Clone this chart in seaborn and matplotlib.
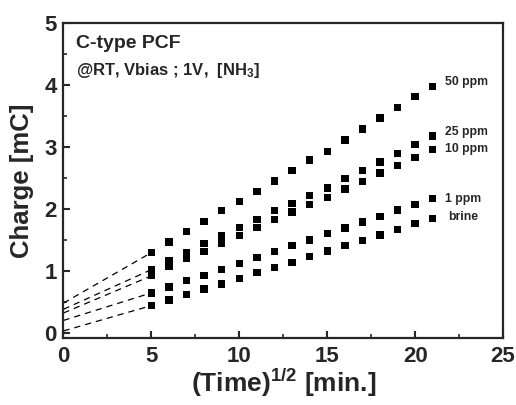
import numpy as np
import pandas as pd
import matplotlib
matplotlib.use("Agg")
import matplotlib.pyplot as plt
import seaborn as sns

# ---- data ----
sqrt_time = [5, 6, 7, 8, 9, 10, 11, 12, 13, 14, 15, 16, 17, 18, 19, 20, 21]
ppm50 = [1.295, 1.465, 1.635, 1.80, 1.97, 2.12, 2.285, 2.45, 2.62, 2.79, 2.93, 3.11, 3.29, 3.465, 3.64, 3.82, 3.98]
ppm25 = [1.02, 1.16, 1.295, 1.44, 1.565, 1.70, 1.83, 1.97, 2.09, 2.22, 2.34, 2.49, 2.62, 2.76, 2.89, 3.04, 3.18]
ppm10 = [0.92, 1.08, 1.20, 1.31, 1.44, 1.57, 1.70, 1.83, 1.95, 2.07, 2.18, 2.32, 2.44, 2.58, 2.70, 2.83, 2.96]
ppm1 = [0.645, 0.74, 0.84, 0.93, 1.025, 1.12, 1.22, 1.31, 1.41, 1.50, 1.60, 1.69, 1.79, 1.88, 1.98, 2.07, 2.17]
brine = [0.44, 0.53, 0.62, 0.71, 0.79, 0.88, 0.97, 1.05, 1.14, 1.23, 1.32, 1.41, 1.49, 1.58, 1.67, 1.76, 1.85]
series_names = ["50 ppm", "25 ppm", "10 ppm", "1 ppm", "brine"]
intercepts = [0.48, 0.38, 0.32, 0.20, 0.03]
label_y = [4.05, 3.24, 2.96, 2.16, 1.87]

series_vals = [ppm50, ppm25, ppm10, ppm1, brine]
df = pd.concat([pd.DataFrame({"x": sqrt_time, "y": v, "s": n}) for n, v in zip(series_names, series_vals)])

sns.set_style("ticks")
plt.rcParams["font.family"] = ["Liberation Sans", "DejaVu Sans"]
plt.rcParams["font.weight"] = "bold"
plt.rcParams["mathtext.fontset"] = "custom"
plt.rcParams["mathtext.rm"] = "Liberation Sans:bold"
plt.rcParams["mathtext.it"] = "Liberation Sans:bold"
plt.rcParams["mathtext.bf"] = "Liberation Sans:bold"
plt.rcParams["mathtext.default"] = "rm"

fig = plt.figure(figsize=(5.16, 4.05), dpi=100)
ax = fig.add_axes([0.123, 0.166, 0.852, 0.777])

sns.scatterplot(data=df, x="x", y="y", hue="s", palette=["black"] * 5, marker="s",
                s=28, edgecolor="none", legend=False, ax=ax, zorder=3)

# dashed extrapolation lines
for b, v in zip(intercepts, series_vals):
    ax.plot([0, sqrt_time[0]], [b, v[0]], color="black", lw=0.9, linestyle=(0, (5, 4)))

# series labels
for n, v, ly in zip(series_names, series_vals, label_y):
    xoff = 21.7 if n != "brine" else 21.9
    ax.text(xoff, ly, n, fontsize=8.8, fontweight="bold", va="center", ha="left")

ax.text(0.72, 4.67, "C-type PCF", fontsize=14, fontweight="bold", va="center")
ax.text(0.72, 4.24, "@RT, Vbias ; 1V,  [NH$_3$]", fontsize=12, fontweight="bold", va="center")

ax.set_xlim(0, 25)
ax.set_ylim(-0.08, 5)
ax.set_xticks([0, 5, 10, 15, 20, 25])
ax.set_xticks([2.5, 7.5, 12.5, 17.5, 22.5], minor=True)
ax.set_yticks([0, 1, 2, 3, 4, 5])
ax.set_yticks([0.5, 1.5, 2.5, 3.5, 4.5], minor=True)
ax.tick_params(which="major", direction="in", length=5, width=1.5, labelsize=16)
ax.tick_params(axis="x", which="major", pad=6)
ax.tick_params(axis="y", which="major", pad=5)
ax.tick_params(which="minor", direction="in", length=3, width=1.2)
for lab in ax.get_xticklabels() + ax.get_yticklabels():
    lab.set_fontweight("bold")
for sp in ax.spines.values():
    sp.set_linewidth(1.6)
    sp.set_visible(True)

ax.set_xlabel("(Time)$^{1/2}$ [min.]", fontsize=19, fontweight="bold", labelpad=0)
ax.set_ylabel("Charge [mC]", fontsize=18.5, fontweight="bold", labelpad=7)

fig.savefig("out.png", dpi=100)
